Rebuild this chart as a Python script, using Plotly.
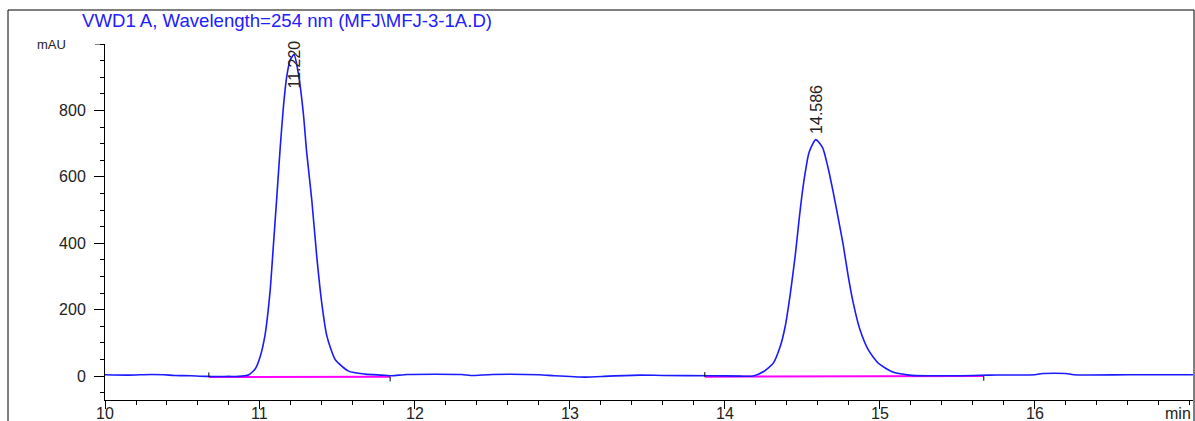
import plotly.graph_objects as go

# ---------------- data ----------------
time_min = [10.00, 10.15, 10.30, 10.38, 10.45, 10.55, 10.65, 10.80,
            10.861, 10.925, 10.970, 11.001, 11.033, 11.065, 11.086, 11.108, 11.130,
            11.151, 11.172, 11.195, 11.220, 11.248, 11.280, 11.301, 11.334, 11.366,
            11.398, 11.431, 11.485, 11.571, 11.679, 11.784,
            11.85, 11.95, 12.30, 12.36, 12.50, 12.80, 12.90, 13.10, 13.25, 13.45,
            13.60, 13.90, 14.10,
            14.181, 14.247, 14.312, 14.356, 14.389, 14.422, 14.454, 14.477, 14.498,
            14.520, 14.543, 14.586, 14.630, 14.663, 14.696, 14.729, 14.762, 14.795,
            14.827, 14.871, 14.926, 14.992, 15.079, 15.189,
            15.30, 15.60, 15.70, 16.00, 16.05, 16.20, 16.25, 16.60, 17.05]
signal_mau = [4, 3, 5, 4, 2, 1, -1, -1,
              -1, 3, 22, 58, 125, 255, 390, 535, 685,
              810, 900, 952, 968, 910, 790, 675, 531, 362,
              222, 122, 50, 15, 6, 3,
              1, 5, 5, 2, 5, 4, 1, -3, 0, 3,
              2, 1, 0,
              0, 13, 39, 88, 150, 249, 365, 465, 549,
              619, 674, 712, 688, 632, 560, 480, 398, 302,
              222, 140, 78, 38, 13, 3,
              1, 2, 3, 4, 8, 8, 4, 4, 4]

peak_rt = [11.220, 14.586]
peak_height = [968, 712]
peak_labels = ["11.220", "14.586"]

baseline_start_t = [10.67, 13.87]
baseline_start_y = [-3, -2]
baseline_end_t = [11.84, 15.67]
baseline_end_y = [-2, 0]

y_tickvals = [0, 200, 400, 600, 800]
x_tickvals = [10, 11, 12, 13, 14, 15, 16]
x_ticktext = ["10", "11", "12", "13", "14", "15", "16"]

title_text = "VWD1 A, Wavelength=254 nm (MFJ\\MFJ-3-1A.D)"

# ---------------- layout constants ----------------
W, H = 1195, 421
ML, MR, MT, MB = 105, 2, 44, 21
PW, PH = W - ML - MR, H - MT - MB
FONT = "Liberation Sans, Arial, sans-serif"
BLUE = "#1a1aff"
MAG = "#ff00ff"
TXT = "#222222"


def px_x(px):
    return (px - ML) / PW


def px_y(py):
    return (H - MB - py) / PH


fig = go.Figure()

# integration baselines
for xs, ys, xe, ye in zip(baseline_start_t, baseline_start_y, baseline_end_t, baseline_end_y):
    fig.add_trace(go.Scatter(x=[xs, xe], y=[ys, ye], mode="lines",
                             line=dict(color=MAG, width=2), hoverinfo="skip",
                             showlegend=False))
    fig.add_shape(type="line", x0=xs, x1=xs, y0=ys, y1=ys + 14,
                  line=dict(color="black", width=1))
    fig.add_shape(type="line", x0=xe, x1=xe, y0=ye, y1=ye - 14,
                  line=dict(color="black", width=1))

# chromatogram
fig.add_trace(go.Scatter(x=time_min, y=signal_mau, mode="lines",
                         line=dict(color=BLUE, width=1.6, shape="spline", smoothing=0.6),
                         showlegend=False))

# peak labels
for rt, h, lab in zip(peak_rt, peak_height, peak_labels):
    fig.add_annotation(x=rt, y=min(h + 12, 860), text=lab, textangle=-90,
                       showarrow=False, xanchor="center", yanchor="bottom",
                       font=dict(family=FONT, size=16, color=TXT))

# title
fig.add_annotation(xref="paper", yref="paper", x=px_x(80), y=px_y(20),
                   text=title_text, showarrow=False, xanchor="left", yanchor="middle",
                   font=dict(family=FONT, size=18.6, color="#2020ff"))

# x tick labels (placed close under the axis, as in the reference)
for tv, tt in zip(x_tickvals, x_ticktext):
    fig.add_annotation(x=tv, xref="x", yref="paper", y=px_y(413), text=tt,
                       showarrow=False, xanchor="center", yanchor="middle",
                       font=dict(family=FONT, size=16, color=TXT))

# axis unit labels
fig.add_annotation(xref="paper", yref="y", x=px_x(68), y=1000, text="mAU",
                   showarrow=False, xanchor="right", yanchor="middle",
                   font=dict(family=FONT, size=13, color=TXT))
fig.add_annotation(xref="paper", yref="paper", x=1.0, y=px_y(413), text="min",
                   showarrow=False, xanchor="right", yanchor="middle",
                   font=dict(family=FONT, size=16, color=TXT))

# outer frame
fig.add_shape(type="rect", xref="paper", yref="paper",
              x0=px_x(8), x1=px_x(1194), y0=px_y(440), y1=px_y(10),
              line=dict(color="black", width=1), fillcolor="rgba(0,0,0,0)")

fig.update_layout(
    width=W, height=H,
    margin=dict(l=ML, r=MR, t=MT, b=MB, pad=0, autoexpand=False),
    paper_bgcolor="white", plot_bgcolor="white",
    font=dict(family=FONT, size=16, color=TXT),
    showlegend=False,
)
fig.update_xaxes(range=[10, 17.02], tickvals=x_tickvals, showticklabels=False,
                 ticks="outside", ticklen=8,
                 tickcolor="black", showline=True, linecolor="black", linewidth=1,
                 showgrid=False, zeroline=False, automargin=False,
                 minor=dict(ticks="outside", ticklen=4, dtick=0.2, tick0=10,
                            tickcolor="black", showgrid=False))
fig.update_yaxes(range=[-72, 1000], tickvals=y_tickvals, ticks="outside", ticklen=10,
                 tickcolor="black", showline=True, linecolor="black", linewidth=1,
                 showgrid=False, zeroline=False, ticklabelstandoff=5, automargin=False,
                 minor=dict(ticks="outside", ticklen=4, dtick=50, tick0=0,
                            tickcolor="black", showgrid=False),
                 tickfont=dict(family=FONT, size=16, color=TXT))
# 1000 major tick without label (for "mAU")
fig.add_shape(type="line", xref="paper", yref="y", x0=px_x(95), x1=0, y0=1000, y1=1000,
              line=dict(color="black", width=1))

fig.write_html("out.html")
